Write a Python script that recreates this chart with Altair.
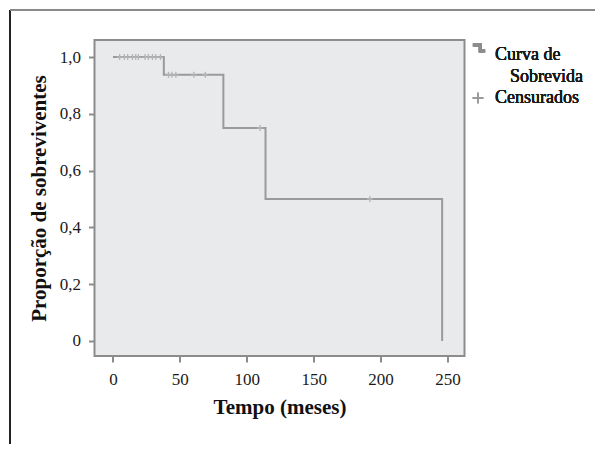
import altair as alt
import pandas as pd

# Kaplan-Meier step points (time in months, survival proportion)
tempo_eventos = [0, 38, 82.5, 114, 246]
sobrevida = [1.0, 0.9375, 0.75, 0.5, 0.0]

# Censored observations
tempo_censura = [5, 8.5, 11, 14.5, 17, 19, 24, 26.5, 29.5, 32, 35.5,
                 41.5, 44, 47, 60.5, 69, 110, 192]
sobrevida_censura = [1.0, 1.0, 1.0, 1.0, 1.0, 1.0, 1.0, 1.0, 1.0, 1.0, 1.0,
                     0.9375, 0.9375, 0.9375, 0.9375, 0.9375, 0.75, 0.5]

x_ticks = [0, 50, 100, 150, 200, 250]
y_ticks = [0, 0.2, 0.4, 0.6, 0.8, 1.0]

legend_labels = ["Curva de", "Sobrevida", "Censurados"]

df_curve = pd.DataFrame({"t": tempo_eventos, "s": sobrevida})
df_cens = pd.DataFrame({"t": tempo_censura, "s": sobrevida_censura})

W, H = 370, 316
FONT = "Liberation Serif"

xscale = alt.Scale(domain=[-13.8, 262.7], nice=False, zero=False)
yscale = alt.Scale(domain=[-0.053, 1.06], nice=False, zero=False)

xax = alt.Axis(values=x_ticks, title="Tempo (meses)", labelPadding=9, titlePadding=9)
yax = alt.Axis(values=y_ticks, title="Proporção de sobreviventes",
               labelExpr="datum.value == 0 ? '0' : replace(format(datum.value, '.1f'), '.', ',')",
               labelPadding=8, titlePadding=10)

curve = alt.Chart(df_curve).mark_line(interpolate="step-after", color="#9a9a9a", strokeWidth=2).encode(
    x=alt.X("t:Q", scale=xscale, axis=xax),
    y=alt.Y("s:Q", scale=yscale, axis=yax),
)

cens = alt.Chart(df_cens).mark_point(shape="M0,-1V1M-1,0H1", size=36, color="#b4b4b4",
                                     strokeWidth=1.3, opacity=1).encode(
    x=alt.X("t:Q", scale=xscale),
    y=alt.Y("s:Q", scale=yscale),
)

# outer figure frame
frame_left = alt.Chart(df_curve).mark_rule(color="#222222", strokeWidth=2).encode(
    x=alt.value(-84.5), y=alt.value(-30), y2=alt.value(H + 90))
frame_top = alt.Chart(df_curve).mark_rule(color="#8a8a8a", strokeWidth=2).encode(
    x=alt.value(-84.5), x2=alt.value(520), y=alt.value(-30))

# manual legend
leg_step = alt.Chart(df_curve).mark_point(shape="M-1,-0.5H0.2V0.5H1", size=150, color="#8c8c8c",
                                          strokeWidth=3, opacity=1, filled=False).encode(
    x=alt.value(384.5), y=alt.value(8))
leg_cross = alt.Chart(df_curve).mark_point(shape="M0,-1V1M-1,0H1", size=110, color="#9a9a9a",
                                           strokeWidth=1.3, opacity=1).encode(
    x=alt.value(383.5), y=alt.value(58))
t1 = alt.Chart(df_curve).mark_text(text=legend_labels[0], align="left", baseline="middle",
                                   font=FONT, fontSize=18, fontWeight="normal", color="#1a1a1a").encode(
    x=alt.value(400.5), y=alt.value(15))
t2 = alt.Chart(df_curve).mark_text(text=legend_labels[1], align="left", baseline="middle",
                                   font=FONT, fontSize=18, fontWeight="normal", color="#1a1a1a").encode(
    x=alt.value(415.5), y=alt.value(37))
t3 = alt.Chart(df_curve).mark_text(text=legend_labels[2], align="left", baseline="middle",
                                   font=FONT, fontSize=18, fontWeight="normal", color="#1a1a1a").encode(
    x=alt.value(400.5), y=alt.value(58))

chart = alt.layer(curve, cens, frame_left, frame_top, leg_step, leg_cross, t1, t2, t3).properties(
    width=W, height=H,
    background="white",
    padding={"left": 86.5, "top": 32, "right": 130, "bottom": 88},
    autosize=alt.AutoSizeParams(type="none"),
).configure_view(
    fill="#e9eaec", stroke="#8c8c8c", strokeWidth=2
).configure_axis(
    domain=False, grid=False, tickColor="#8c8c8c", tickSize=6, tickWidth=2,
    labelFont=FONT, labelFontSize=17, labelColor="#1a1a1a",
    titleFont=FONT, titleFontSize=21, titleFontWeight="bold", titleColor="#111111",
)

chart.save("out.html", embed_options={"renderer": "svg", "actions": False})
